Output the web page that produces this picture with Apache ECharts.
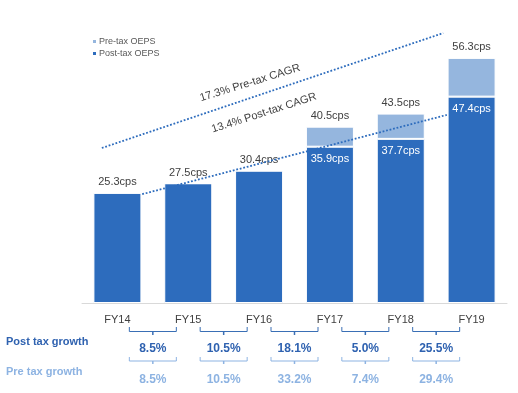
<!DOCTYPE html>
<html><head><meta charset="utf-8">
<script src="https://cdn.jsdelivr.net/npm/echarts@6/dist/echarts.min.js"></script>
<style>html,body{margin:0;padding:0;background:#fff}#c{width:518px;height:393px}</style>
</head><body><div id="c"></div>
<script>
const categories = ['FY14','FY15','FY16','FY17','FY18','FY19'];
const postTax = [25.3, 27.5, 30.4, 35.9, 37.7, 47.4];
const preTax  = [25.3, 27.5, 30.4, 40.5, 43.5, 56.3];
const postGrowth = ['8.5%','10.5%','18.1%','5.0%','25.5%'];
const preGrowth  = ['8.5%','10.5%','33.2%','7.4%','29.4%'];
// CAGR trend annotation endpoints [category position, value]
const preCagrLine  = [[-0.22, 35.6], [4.60, 62.0]];
const postCagrLine = [[0.35, 25.0], [4.65, 43.2]];
const preCagrText = '17.3% Pre-tax CAGR';
const postCagrText = '13.4% Post-tax CAGR';

const DARK = '#2D6CBD', LIGHT = '#95B6DE';
const GDARK = '#2F62B0', GLIGHT = '#8DB3E2';
const SANS = '"Liberation Sans", Arial, sans-serif';

const preDiff = preTax.map((v, i) => +(v - postTax[i]).toFixed(1));
const hasPre = preDiff.map(d => d > 0);

const postData = postTax.map((v, i) => ({
  value: v,
  label: hasPre[i]
    ? {show: true, position: 'insideTop', distance: 7, color: '#fff'}
    : {show: true, position: 'top', distance: 5, color: '#404040'}
}));
const preData = preDiff.map((v, i) => ({
  value: v,
  label: {show: hasPre[i], position: 'top', distance: 5, color: '#404040',
          formatter: () => preTax[i].toFixed(1) + 'cps'}
}));

const chart = echarts.init(document.getElementById('c'), null, {renderer: 'canvas'});
chart.setOption({
  animation: false,
  backgroundColor: '#fff',
  grid: {left: 82, right: 11, top: 20, bottom: 90},
  legend: {
    orient: 'vertical', left: 86, top: 32, itemWidth: 5, itemHeight: 5, itemGap: 3,
    icon: 'rect', data: ['Pre-tax OEPS', 'Post-tax OEPS'],
    textStyle: {fontSize: 9, color: '#595959', fontFamily: SANS, padding: [0,0,0,-3]}
  },
  xAxis: [{
    type: 'category', data: categories,
    axisLine: {lineStyle: {color: '#D9D9D9', width: 1}},
    axisTick: {show: false},
    axisLabel: {color: '#404040', fontSize: 11, fontFamily: SANS, margin: 11}
  }, {
    type: 'value', min: -0.5, max: 5.5, show: false
  }],
  yAxis: {type: 'value', min: 0, max: 65, show: false},
  series: [{
    name: 'Post-tax OEPS', type: 'bar', stack: 'eps', data: postData,
    barWidth: 48, itemStyle: {color: DARK, borderColor: '#fff', borderWidth: 1},
    label: {fontSize: 11, fontFamily: SANS, formatter: p => p.value.toFixed(1) + 'cps'}
  }, {
    name: 'Pre-tax OEPS', type: 'bar', stack: 'eps', data: preData,
    barWidth: 48, itemStyle: {color: LIGHT, borderColor: '#fff', borderWidth: 1},
    label: {fontSize: 11, fontFamily: SANS}
  }, {
    type: 'line', xAxisIndex: 1, data: preCagrLine, symbol: 'none', clip: false, silent: true,
    lineStyle: {color: DARK, width: 1.8, type: [1.8, 1.8]}
  }, {
    type: 'line', xAxisIndex: 1, data: postCagrLine, symbol: 'none', clip: false, silent: true,
    lineStyle: {color: DARK, width: 1.8, type: [1.8, 1.8]}
  }, {
    type: 'custom', xAxisIndex: 1, clip: false, silent: true,
    data: postGrowth.map((g, i) => [i + 0.5, i]),
    renderItem: (params, api) => {
      const i = api.value(1);
      const p = api.coord([api.value(0), 0]);
      const x = p[0], y0 = p[1];
      const hw = 23.5;
      return {type: 'group', children: [
        {type: 'polyline', shape: {points: [[x-hw, y0+24], [x-hw, y0+28.5], [x+hw, y0+28.5], [x+hw, y0+24]]},
         style: {stroke: '#3A6FB5', lineWidth: 1, fill: null}},
        {type: 'line', shape: {x1: x, y1: y0+28.5, x2: x, y2: y0+32}, style: {stroke: '#3A6FB5', lineWidth: 1.5}},
        {type: 'text', x: x, y: y0+46, style: {text: postGrowth[i], fill: GDARK, font: 'bold 12px ' + SANS, align: 'center', verticalAlign: 'middle'}},
        {type: 'polyline', shape: {points: [[x-hw, y0+54], [x-hw, y0+58], [x+hw, y0+58], [x+hw, y0+54]]},
         style: {stroke: GLIGHT, lineWidth: 1, fill: null}},
        {type: 'line', shape: {x1: x, y1: y0+58, x2: x, y2: y0+61}, style: {stroke: GLIGHT, lineWidth: 1.5}},
        {type: 'text', x: x, y: y0+77, style: {text: preGrowth[i], fill: GLIGHT, font: 'bold 12px ' + SANS, align: 'center', verticalAlign: 'middle'}}
      ]};
    }
  }],
  graphic: [
    {type: 'text', left: 6, top: 336, style: {text: 'Post tax growth', fill: GDARK, font: 'bold 11px ' + SANS}},
    {type: 'text', left: 6, top: 366, style: {text: 'Pre tax growth', fill: GLIGHT, font: 'bold 11px ' + SANS}},
    {type: 'text', x: 250, y: 83, rotation: 0.30, style: {text: preCagrText, fill: '#404040', font: '11px ' + SANS, align: 'center', verticalAlign: 'middle'}},
    {type: 'text', x: 264, y: 113, rotation: 0.31, style: {text: postCagrText, fill: '#404040', font: '11px ' + SANS, align: 'center', verticalAlign: 'middle'}}
  ]
});
</script></body></html>
